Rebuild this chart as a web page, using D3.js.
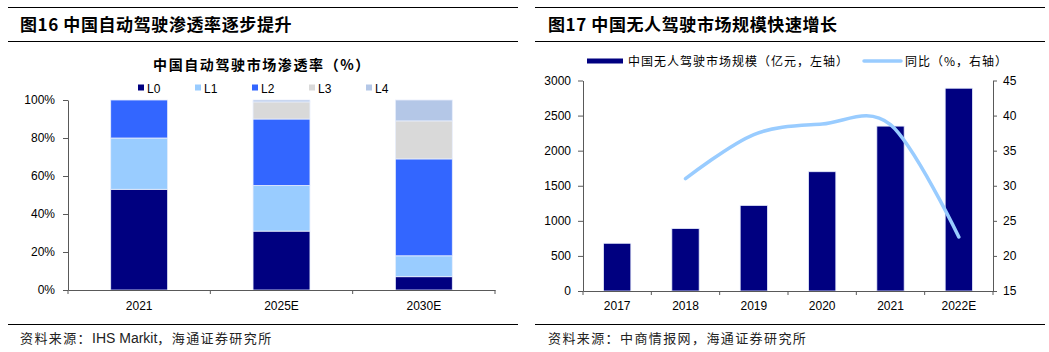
<!DOCTYPE html>
<html>
<head>
<meta charset="utf-8">
<script src="https://cdn.jsdelivr.net/npm/d3@7"></script>
<style>
  body { margin: 0; background: #fff; }
  svg { display: block; }
</style>
</head>
<body>
<div id="chart"></div>
<script>
// ---- data: figure 16 (penetration rate by level, %) ----
const penetrationYears = ['2021', '2025E', '2030E'];
const levelNames = ['L0', 'L1', 'L2', 'L3', 'L4'];
const shareL0 = [53, 31, 7];
const shareL1 = [27, 24, 11];
const shareL2 = [20, 35, 51];
const shareL3 = [0, 9, 20];
const shareL4 = [0, 1, 11];
const penetrationTicks = [0, 20, 40, 60, 80, 100];

// ---- data: figure 17 (market size, 亿元 / yoy %) ----
const marketYears = ['2017', '2018', '2019', '2020', '2021', '2022E'];
const marketSize = [680, 890, 1220, 1700, 2350, 2890];
const yoyGrowth = [null, 31.0, 37.3, 38.8, 38.7, 22.7];
const sizeTicks = [0, 500, 1000, 1500, 2000, 2500, 3000];
const growthTicks = [15, 20, 25, 30, 35, 40, 45];

const WIDTH = 1049;
const HEIGHT = 352;
const LEVEL_COLORS = ['#000080', '#99ccff', '#3366ff', '#d9d9d9', '#b4c7e7'];
const AXIS_COLOR = '#595959';
const LATIN_FONT = '"Liberation Sans", Arial, sans-serif';
const CJK_FONT = '"Noto Sans CJK SC", "Noto Sans", sans-serif';

const svg = d3.select('#chart')
  .append('svg')
  .attr('width', WIDTH)
  .attr('height', HEIGHT);

svg.append('rect').attr('width', WIDTH).attr('height', HEIGHT).attr('fill', '#fff');

// header rules, title, footer rule and source for one panel
// source is a list of [text, isLatin] pieces so latin words keep normal spacing
const drawFrame = (x0, x1, titleX, title, sourcePieces) => {
  [7, 41].forEach((y) =>
    svg.append('line')
      .attr('x1', x0).attr('x2', x1)
      .attr('y1', y + 0.5).attr('y2', y + 0.5)
      .attr('stroke', '#000').attr('stroke-width', 1.2));

  svg.append('line')
    .attr('x1', x0).attr('x2', x1)
    .attr('y1', 324.5).attr('y2', 324.5)
    .attr('stroke', '#000').attr('stroke-width', 1.2);

  svg.append('text')
    .attr('x', titleX).attr('y', 31)
    .style('font-family', CJK_FONT)
    .style('font-weight', 700)
    .style('font-size', '17px')
    .style('letter-spacing', '0.6px')
    .text(title);

  const source = svg.append('text')
    .attr('x', titleX).attr('y', 343)
    .style('font-family', CJK_FONT)
    .style('font-size', '13px')
    .attr('fill', '#222');
  sourcePieces.forEach(([piece, isLatin]) =>
    source.append('tspan')
      .style('font-family', isLatin ? LATIN_FONT : CJK_FONT)
      .style('font-size', isLatin ? '14px' : '13px')
      .style('letter-spacing', isLatin ? '0px' : '1.4px')
      .text(piece));
};

const styleAxis = (g) => {
  g.selectAll('.domain, .tick line').attr('stroke', AXIS_COLOR);
  g.selectAll('text')
    .style('font-family', LATIN_FONT)
    .style('font-size', '12px')
    .attr('fill', '#000');
};

// category axis with ticks on the band boundaries
const drawCategoryAxis = (x, y0, padding) => {
  const g = svg.append('g')
    .attr('transform', `translate(0, ${y0})`)
    .call(d3.axisBottom(x).tickSize(0).tickSizeOuter(0).tickPadding(padding));
  styleAxis(g);
  const [r0] = x.range();
  d3.range(x.domain().length + 1).forEach((i) =>
    g.append('line')
      .attr('x1', r0 + i * x.step()).attr('x2', r0 + i * x.step())
      .attr('y1', 0).attr('y2', 4)
      .attr('stroke', AXIS_COLOR));
};

// ---------------- figure 16 ----------------
const drawPenetration = () => {
  drawFrame(8, 518, 20, '图16 中国自动驾驶渗透率逐步提升',
    [['资料来源：', false], ['IHS Markit', true], ['，海通证券研究所', false]]);

  const x = d3.scaleBand(penetrationYears, [68, 495]).paddingInner(0.6).paddingOuter(0.3);
  const y = d3.scaleLinear([0, 100], [290, 100]);

  svg.append('text')
    .attr('x', 262).attr('y', 70)
    .attr('text-anchor', 'middle')
    .style('font-family', CJK_FONT)
    .style('font-weight', 700)
    .style('font-size', '14px')
    .style('letter-spacing', '1.6px')
    .text('中国自动驾驶市场渗透率（%）');

  const levelShares = [shareL0, shareL1, shareL2, shareL3, shareL4];
  const table = penetrationYears.map((year, i) => {
    const row = { year };
    levelNames.forEach((name, k) => { row[name] = levelShares[k][i]; });
    return row;
  });
  const stacked = d3.stack().keys(levelNames)(table);

  stacked.forEach((layer, k) => {
    svg.append('g')
      .selectAll('rect')
      .data(layer.filter((d) => d[1] > d[0]))
      .join('rect')
      .attr('x', (d) => x(d.data.year))
      .attr('width', x.bandwidth())
      .attr('y', (d) => y(d[1]))
      .attr('height', (d) => y(d[0]) - y(d[1]))
      .attr('fill', LEVEL_COLORS[k])
      .attr('stroke', '#e8eefc')
      .attr('stroke-width', 0.8);
  });

  const yAxis = svg.append('g')
    .attr('transform', 'translate(68, 0)')
    .call(d3.axisLeft(y).tickValues(penetrationTicks).tickFormat((d) => `${d}%`)
      .tickSize(5).tickSizeOuter(0).tickPadding(8));
  styleAxis(yAxis);

  drawCategoryAxis(x, 290, 11);

  // legend
  const legend = svg.append('g').attr('transform', 'translate(138, 88)');
  levelNames.forEach((name, k) => {
    const item = legend.append('g').attr('transform', `translate(${k * 57}, 0)`);
    item.append('rect')
      .attr('x', 0).attr('y', -3.5)
      .attr('width', 6).attr('height', 6)
      .attr('fill', LEVEL_COLORS[k]);
    item.append('text')
      .attr('x', 9).attr('y', 4.5)
      .style('font-family', LATIN_FONT)
      .style('font-size', '12px')
      .text(name);
  });
};

// ---------------- figure 17 ----------------
const drawMarket = () => {
  drawFrame(535, 1045, 548, '图17 中国无人驾驶市场规模快速增长',
    [['资料来源：中商情报网，海通证券研究所', false]]);

  const x = d3.scaleBand(marketYears, [583, 993]).paddingInner(0.6).paddingOuter(0.3);
  const yLeft = d3.scaleLinear([0, 3000], [291, 80.5]);
  const yRight = d3.scaleLinear([15, 45], [291, 80.5]);

  svg.append('g')
    .selectAll('rect')
    .data(marketYears.map((year, i) => ({ year, value: marketSize[i] })))
    .join('rect')
    .attr('x', (d) => x(d.year))
    .attr('width', x.bandwidth())
    .attr('y', (d) => yLeft(d.value))
    .attr('height', (d) => yLeft(0) - yLeft(d.value))
    .attr('fill', '#000080')
    .attr('stroke', '#e8eefc')
    .attr('stroke-width', 0.8);

  const points = marketYears
    .map((year, i) => ({ year, value: yoyGrowth[i] }))
    .filter((d) => d.value !== null);

  svg.append('path')
    .datum(points)
    .attr('fill', 'none')
    .attr('stroke', '#99ccff')
    .attr('stroke-width', 3.5)
    .attr('stroke-linecap', 'round')
    .attr('d', d3.line()
      .x((d) => x(d.year) + x.bandwidth() / 2)
      .y((d) => yRight(d.value))
      .curve(d3.curveCatmullRom.alpha(0)));

  const leftAxis = svg.append('g')
    .attr('transform', 'translate(583, 0)')
    .call(d3.axisLeft(yLeft).tickValues(sizeTicks).tickFormat(d3.format('d'))
      .tickSize(5).tickSizeOuter(0).tickPadding(7));
  styleAxis(leftAxis);

  const rightAxis = svg.append('g')
    .attr('transform', 'translate(993, 0)')
    .call(d3.axisRight(yRight).tickValues(growthTicks).tickSize(4).tickSizeOuter(0).tickPadding(6));
  styleAxis(rightAxis);

  drawCategoryAxis(x, 291, 10);

  // legend
  const legend = svg.append('g').attr('transform', 'translate(0, 61)');
  legend.append('rect')
    .attr('x', 587).attr('y', -2.5)
    .attr('width', 36).attr('height', 5)
    .attr('fill', '#000080');
  legend.append('text')
    .attr('x', 628).attr('y', 4.5)
    .style('font-family', CJK_FONT)
    .style('font-size', '12px')
    .style('letter-spacing', '1px')
    .text('中国无人驾驶市场规模（亿元，左轴）');
  legend.append('line')
    .attr('x1', 864).attr('x2', 901)
    .attr('y1', 0).attr('y2', 0)
    .attr('stroke', '#99ccff')
    .attr('stroke-width', 3.5)
    .attr('stroke-linecap', 'round');
  legend.append('text')
    .attr('x', 905).attr('y', 4.5)
    .style('font-family', CJK_FONT)
    .style('font-size', '12px')
    .style('letter-spacing', '1px')
    .text('同比（%，右轴）');
};

drawPenetration();
drawMarket();
</script>
</body>
</html>
